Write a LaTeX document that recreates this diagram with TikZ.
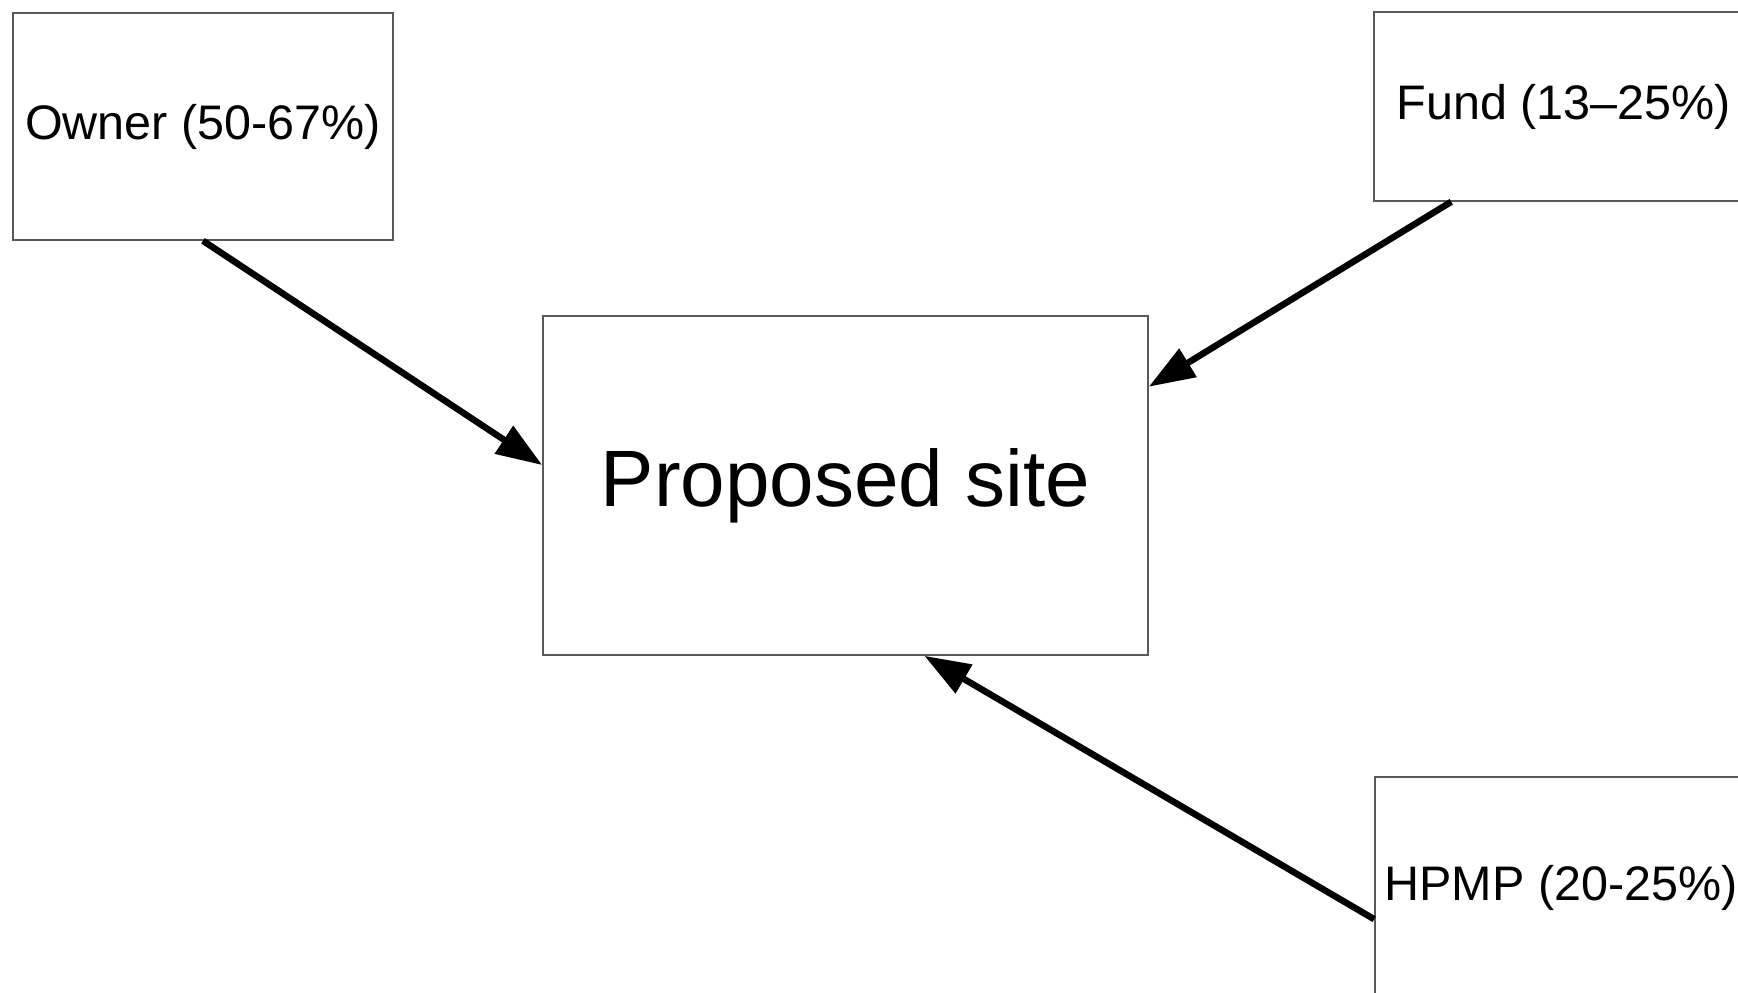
\documentclass[tikz,border=0pt]{standalone}
\usepackage{fontspec}
\setmainfont{Liberation Sans}
\usetikzlibrary{arrows.meta,calc}
\begin{document}
\begin{tikzpicture}[x=1pt,y=-1pt,
  box/.style={draw=black!65,line width=1.6pt,fill=white,inner sep=0pt,anchor=center},
  small/.style={font=\fontsize{48.5}{58}\selectfont},
  big/.style={font=\fontsize{80}{96}\selectfont},
  flow/.style={line width=6.5pt,-{Triangle[length=46pt,width=32pt]}}]
\useasboundingbox (0,0) rectangle (1738,993);
\clip (0,0) rectangle (1738,993);
\fill[white] (0,0) rectangle (1738,993);
\node[box,small,minimum width=380pt,minimum height=227pt] (owner) at (203,126.5) {Owner (50-67\%)};
\node[box,small,minimum width=380pt,minimum height=189pt] (fund) at (1564,106.5) {Fund (13–25\%)};
\node[box,big,minimum width=605pt,minimum height=339pt] (site) at (845.5,485.5) {Proposed site};
\node[box,small,minimum width=372pt,minimum height=222pt] (hpmp) at (1561,888) {HPMP (20-25\%)};
\coordinate (ownerIn) at ($(site.north west)!0.44!(site.south west)$);
\coordinate (fundIn) at ($(site.north east)!0.21!(site.south east)$);
\coordinate (hpmpIn) at ($(site.south west)!0.63!(site.south east)$);
\coordinate (fundOut) at ($(fund.south west)+(78,0)$);
\coordinate (hpmpOut) at ($(hpmp.north west)+(0,143)$);
\draw[flow] (owner.south) -- (ownerIn);
\draw[flow] (fundOut) -- (fundIn);
\draw[flow] (hpmpOut) -- (hpmpIn);
\end{tikzpicture}
\end{document}
